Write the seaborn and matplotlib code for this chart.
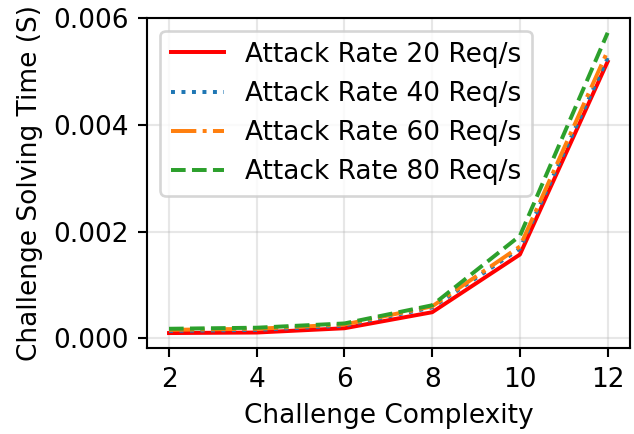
import pandas as pd
import numpy as np
import seaborn as sns
import matplotlib.pyplot as plt

complexity = [2, 4, 6, 8, 10, 12]
rate_20 = [0.00010, 0.00011, 0.00019, 0.00049, 0.00157, 0.00518]
rate_40 = [0.00014, 0.00016, 0.00024, 0.00058, 0.00168, 0.00525]
rate_60 = [0.00016, 0.00018, 0.00026, 0.00060, 0.00172, 0.00538]
rate_80 = [0.00018, 0.00020, 0.00028, 0.00062, 0.00192, 0.00572]

labels = ["Attack Rate 20 Req/s", "Attack Rate 40 Req/s",
          "Attack Rate 60 Req/s", "Attack Rate 80 Req/s"]
colors = ["red", "tab:blue", "tab:orange", "tab:green"]
styles = ["-", ":", "-.", "--"]

plt.rcParams['font.family'] = ['DejaVu Sans']

# small figure at high dpi, same look as the original
fig, ax = plt.subplots(figsize=(634 / 190, 434 / 190), dpi=190)

for vals, lab, c, ls in zip([rate_20, rate_40, rate_60, rate_80], labels, colors, styles):
    sns.lineplot(x=complexity, y=vals, ax=ax, label=lab, color=c, linestyle=ls, linewidth=1.5)

ax.grid(True, alpha=0.3)
ax.set_xticks([2, 4, 6, 8, 10, 12])
ax.set_yticks([0.0, 0.002, 0.004, 0.006])
ax.set_xlabel("Challenge Complexity")
ax.set_ylabel("Challenge Solving Time (S)")
ax.legend(loc="upper left")

plt.subplots_adjust(left=0.232, right=0.993, top=0.959, bottom=0.198)
plt.savefig("out.png", dpi=190)
